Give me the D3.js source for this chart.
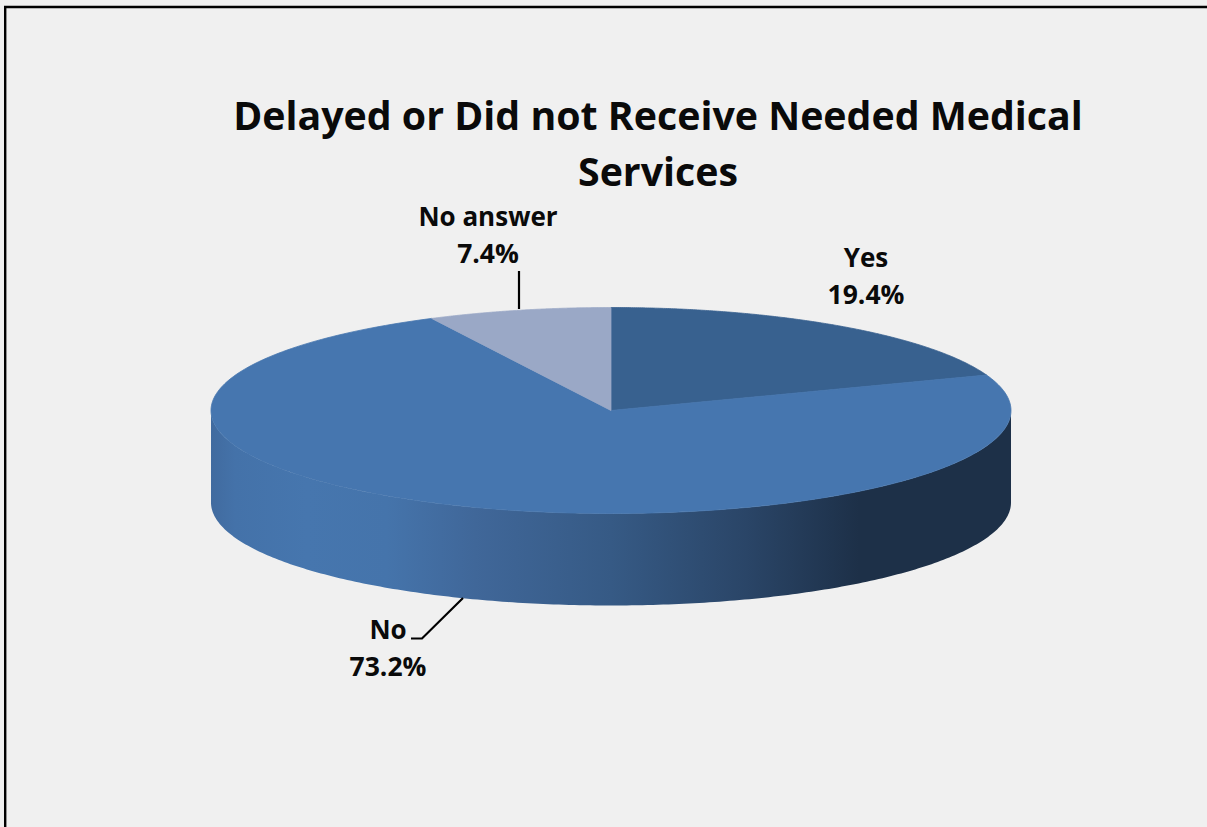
<!DOCTYPE html>
<html><head><meta charset="utf-8">
<script src="https://cdn.jsdelivr.net/npm/d3@7"></script>
<style>
html,body{margin:0;padding:0;background:#f0f0f0;overflow:hidden}
text{font-family:"Open Sans",sans-serif;font-weight:700;fill:#0a0a0a}
</style></head><body>
<svg id="c" width="1207" height="827"></svg>
<script>
const categories = ["Yes", "No", "No answer"];
const values = [19.4, 73.2, 7.4];
const colors = ["#38618f", "#4676af", "#9aa8c6"];
const titleLines = ["Delayed or Did not Receive Needed Medical", "Services"];

const svg = d3.select("#c");
const W = 1207, H = 827;
const cx = 611, cy = 410.5, rx = 400, ry = 103, depth = 92;

svg.append("rect").attr("width", W).attr("height", H).attr("fill", "#f0f0f0");
svg.append("path").attr("d", d3.line()([[5.2, H], [5.2, 7], [W, 7]]))
  .attr("fill", "none").attr("stroke", "#000").attr("stroke-width", 2.4);

const X = d3.scaleLinear().domain([-1, 1]).range([cx - rx, cx + rx]);
const Y = d3.scaleLinear().domain([-1, 1]).range([cy - ry, cy + ry]);

const arcs = d3.pie().value(d => d).sort(null)(values);
const pt = (a, dy = 0) => [X(Math.sin(a)), Y(-Math.cos(a)) + dy];
const line = d3.line();
const rim = (a0, a1, dy = 0) => d3.range(0, 241).map(i => pt(a0 + (a1 - a0) * i / 240, dy));

// side wall gradient
const defs = svg.append("defs");
const g = defs.append("linearGradient").attr("id", "side").attr("gradientUnits", "userSpaceOnUse")
  .attr("x1", cx - rx).attr("x2", cx + rx).attr("y1", 0).attr("y2", 0);
[[0, "#416b9f"], [0.03, "#4472a9"], [0.12, "#4676ae"], [0.22, "#4574ab"], [0.33, "#406799"],
 [0.5, "#365a85"], [0.67, "#2a4567"], [0.81, "#1d3048"], [1, "#1d3048"]]
  .forEach(s => g.append("stop").attr("offset", s[0]).attr("stop-color", s[1]));

const front = rim(Math.PI / 2, Math.PI * 1.5);
const wall = front.concat(rim(Math.PI / 2, Math.PI * 1.5, depth).reverse());
svg.append("path").attr("d", line(wall) + "Z").attr("fill", "url(#side)");

svg.selectAll("path.slice").data(arcs).join("path").attr("class", "slice")
  .attr("d", d => line([[cx, cy]].concat(rim(d.startAngle, d.endAngle))) + "Z")
  .attr("fill", (d, i) => colors[i])
  .attr("stroke", (d, i) => colors[i]).attr("stroke-width", 0.8);

// Title
svg.selectAll("text.title").data(titleLines).join("text").attr("class", "title")
  .attr("x", 658).attr("y", (d, i) => 130 + i * 56)
  .attr("text-anchor", "middle").attr("font-size", 39.3).text(d => d);

// Labels
const labels = [
  {x: 866, y: 267, i: 0},
  {x: 388, y: 639, i: 1},
  {x: 488, y: 226, i: 2}
];
const lab = svg.selectAll("g.lab").data(labels).join("g").attr("class", "lab");
lab.append("text").attr("x", d => d.x).attr("y", d => d.y).attr("text-anchor", "middle")
  .attr("font-size", 26).text(d => categories[d.i]);
lab.append("text").attr("x", d => d.x).attr("y", d => d.y + 37).attr("text-anchor", "middle")
  .attr("font-size", 26.5).text(d => values[d.i].toFixed(1) + "%");

// Leader lines
const leaders = [
  [[519, 271], [519, 309]],
  [[411, 638.5], [422, 638.5], [463, 598]]
];
svg.selectAll("path.leader").data(leaders).join("path").attr("class", "leader")
  .attr("d", d => line(d)).attr("fill", "none").attr("stroke", "#000").attr("stroke-width", 2.2);
</script>
</body></html>
